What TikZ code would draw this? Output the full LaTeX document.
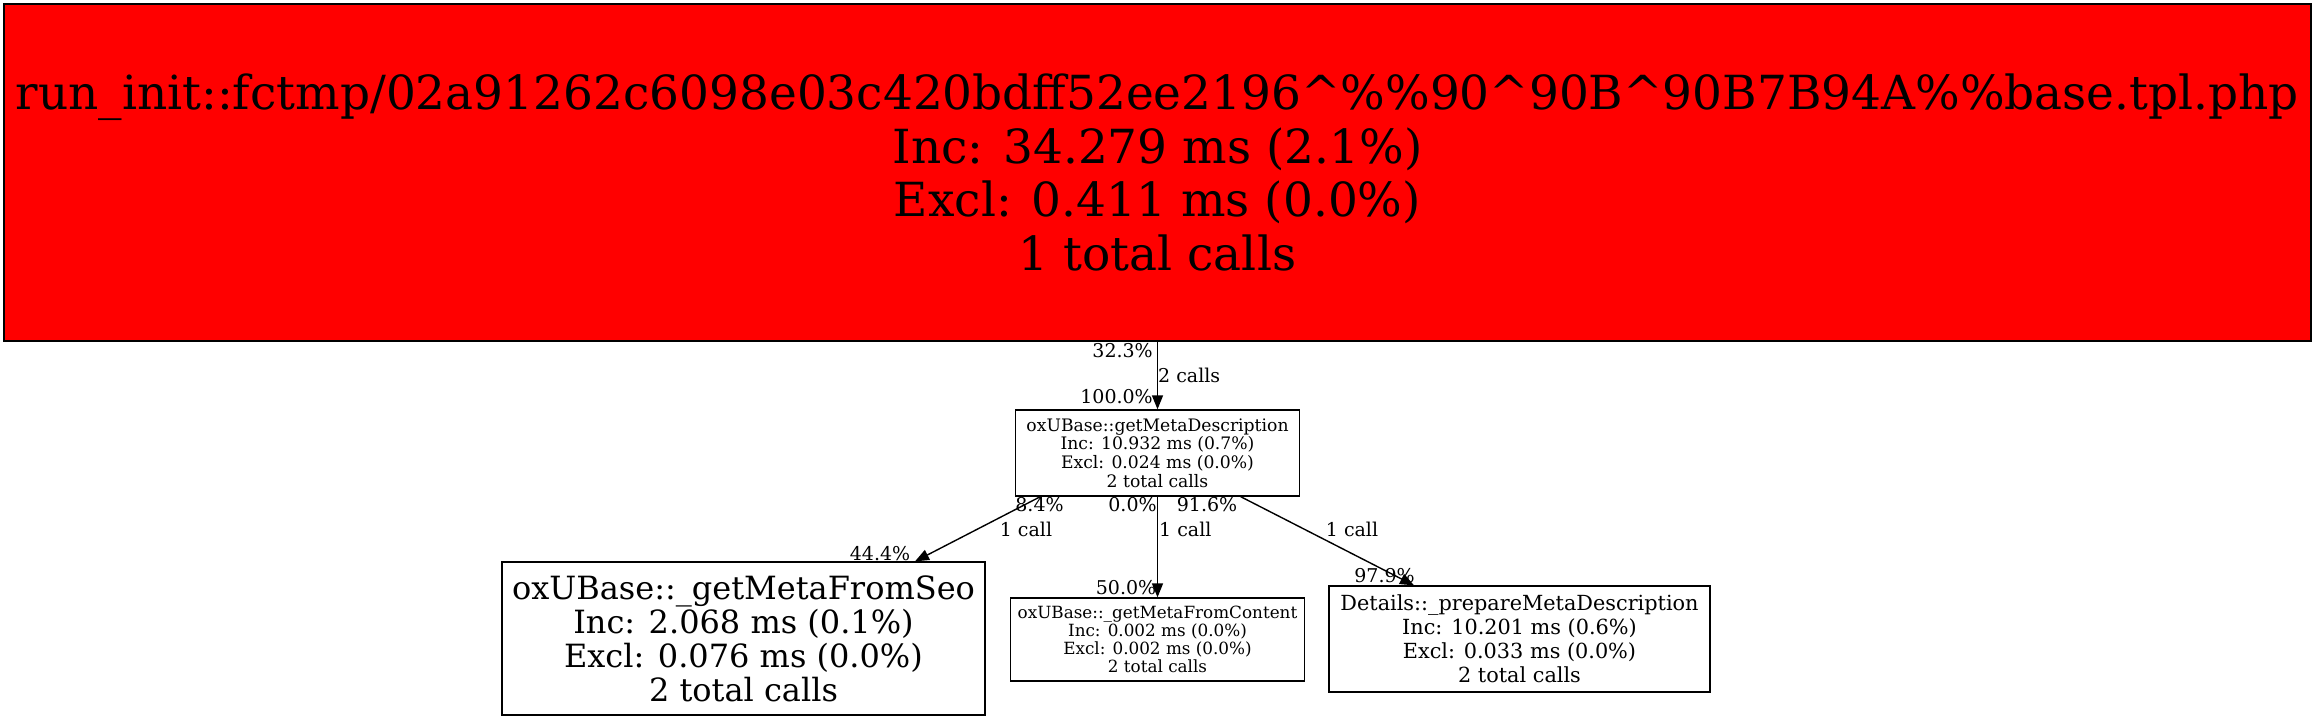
\documentclass[tikz,border=0pt]{standalone}
\usepackage{fontspec}
\setmainfont{DejaVu Serif}
\usetikzlibrary{arrows.meta,calc}
\begin{document}
\begin{tikzpicture}[x=1pt,y=-1pt,
 box/.style={draw, line width=1.3pt, inner sep=0pt, align=center},
 lab/.style={inner sep=0pt, font=\fontsize{19}{21}\selectfont},
 conn/.style={line width=1.4pt, -{Triangle[length=14pt,width=11pt]}}]
\useasboundingbox (0,0) rectangle (2315,720);
\node[box, fill=red, minimum width=2307pt, minimum height=337pt, font=\fontsize{47}{53.5}\selectfont] (top) at (1157.5,172.5)
 {run\_init::fctmp/02a91262c6098e03c420bdff52ee2196\textasciicircum\%\%90\textasciicircum90B\textasciicircum90B7B94A\%\%base.tpl.php\\Inc: 34.279 ms (2.1\%)\\Excl: 0.411 ms (0.0\%)\\1 total calls};
\node[box, minimum width=284pt, minimum height=86pt, font=\fontsize{17.2}{18.6}\selectfont] (mid) at (1157.5,453)
 {oxUBase::getMetaDescription\\Inc: 10.932 ms (0.7\%)\\Excl: 0.024 ms (0.0\%)\\2 total calls};
\node[box, minimum width=483pt, minimum height=153pt, font=\fontsize{32}{34}\selectfont] (seo) at (743.5,638.5)
 {oxUBase::\_getMetaFromSeo\\Inc: 2.068 ms (0.1\%)\\Excl: 0.076 ms (0.0\%)\\2 total calls};
\node[box, minimum width=294pt, minimum height=83pt, font=\fontsize{16.8}{18}\selectfont] (content) at (1157.5,639.5)
 {oxUBase::\_getMetaFromContent\\Inc: 0.002 ms (0.0\%)\\Excl: 0.002 ms (0.0\%)\\2 total calls};
\node[box, minimum width=381pt, minimum height=106pt, font=\fontsize{20.8}{24}\selectfont] (details) at (1519.5,639)
 {Details::\_prepareMetaDescription\\Inc: 10.201 ms (0.6\%)\\Excl: 0.033 ms (0.0\%)\\2 total calls};
\draw[conn] (top.south) -- (mid.north);
\draw[conn] ($(mid.south west)+(25.5,0)$) -- ($(seo.north)+(171.5,0)$);
\draw[conn] (mid.south) -- (content.north);
\draw[conn] ($(mid.south east)+(-59.5,0)$) -- ($(details.north)+(-105.5,0)$);
\node[lab, anchor=east] (l1) at (1153,351) {32.3\%};
\node[lab, anchor=west] (l2) at (1158,375) {2 calls};
\node[lab, anchor=east] (l3) at (1153,397) {100.0\%};
\node[lab] (l4) at (1039.5,505) {8.4\%};
\node[lab] (l5) at (1026,529) {1 call};
\node[lab] (l6) at (1132.5,505) {0.0\%};
\node[lab, anchor=west] (l7) at (1159,529) {1 call};
\node[lab] (l8) at (1207,505) {91.6\%};
\node[lab] (l9) at (1352,529) {1 call};
\node[lab] (l10) at (880,554) {44.4\%};
\node[lab] (l11) at (1126,588) {50.0\%};
\node[lab] (l12) at (1384.5,576) {97.9\%};
\end{tikzpicture}
\end{document}
